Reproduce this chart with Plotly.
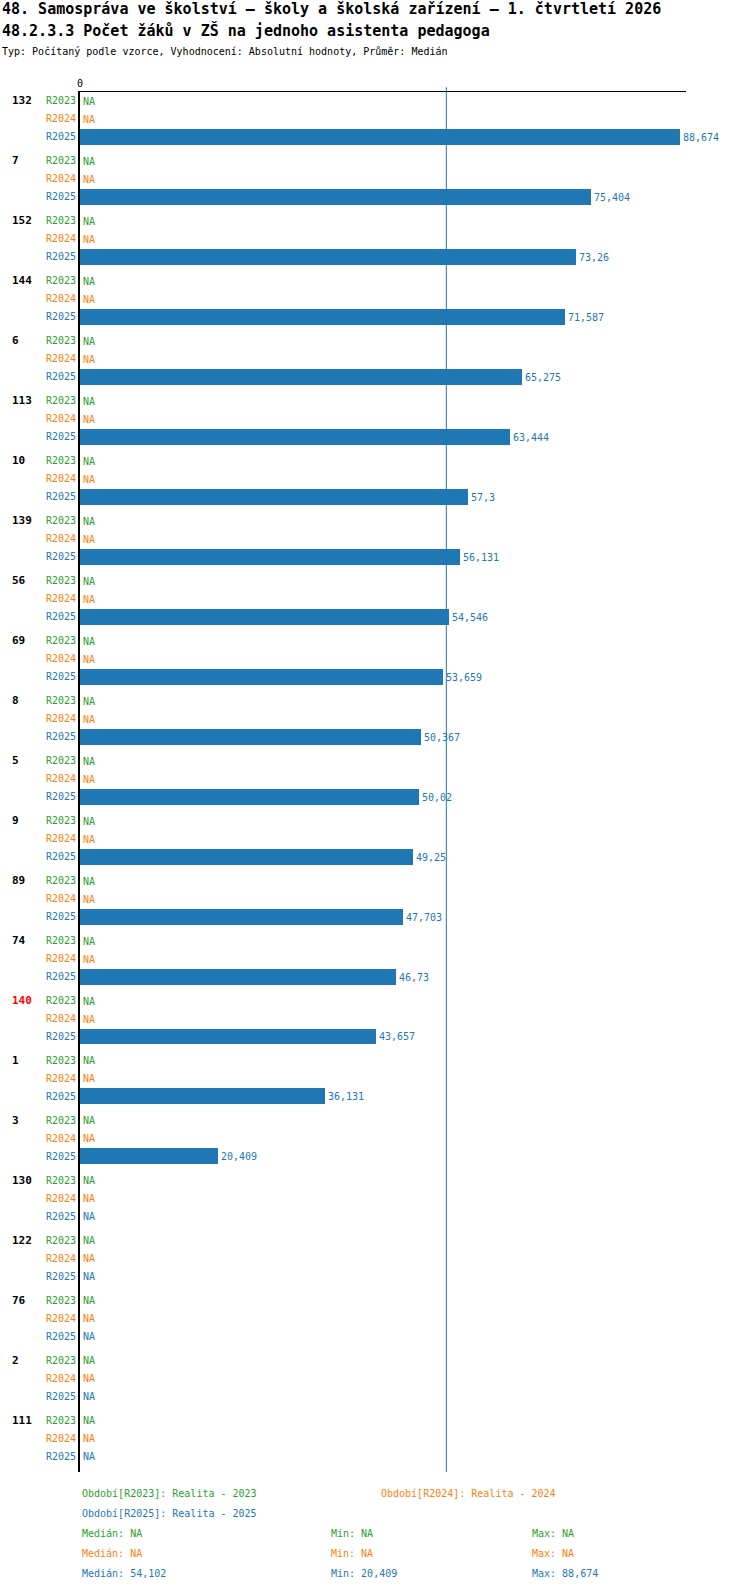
import plotly.graph_objects as go

# data
groups = ["132", "7", "152", "144", "6", "113", "10", "139", "56", "69", "8", "5",
          "9", "89", "74", "140", "1", "3", "130", "122", "76", "2", "111"]
highlight = "140"
series = ["R2023", "R2024", "R2025"]
colors = ["#2ca02c", "#ff7f0e", "#1f77b4"]
r2023 = [None] * len(groups)
r2024 = [None] * len(groups)
r2025 = [88.674, 75.404, 73.26, 71.587, 65.275, 63.444, 57.3, 56.131, 54.546,
         53.659, 50.367, 50.02, 49.25, 47.703, 46.73, 43.657, 36.131, 20.409,
         None, None, None, None, None]
period_names = ["Realita - 2023", "Realita - 2024", "Realita - 2025"]
median_2025 = 54.102
stats = [("NA", "NA", "NA"), ("NA", "NA", "NA"), ("54,102", "20,409", "88,674")]

FONT = "DejaVu Sans Mono"
GROUP_STEP, ROW_STEP = 60, 18
PLOT_TOP, PLOT_BOTTOM = 92, 1472.3
PLOT_H = PLOT_BOTTOM - PLOT_TOP


def fmt(v):
    return "NA" if v is None else f"{v:g}".replace(".", ",")


def py(p):
    # page pixel row -> paper y
    return (PLOT_BOTTOM - p) / PLOT_H


fig = go.Figure()

all_vals = [r2023, r2024, r2025]
tickvals, ticktext = [], []
for k, (name, col, vals) in enumerate(zip(series, colors, all_vals)):
    ys = [g * GROUP_STEP + k * ROW_STEP for g in range(len(groups))]
    tickvals += ys
    ticktext += [f"<span style='color:{col}'>{name}</span>"] * len(ys)
    # missing values become empty bars so "NA" sits where the value label would
    fig.add_trace(go.Bar(
        x=[0 if v is None else v for v in vals], y=ys, orientation="h", width=16,
        marker=dict(color=col, line=dict(width=0)),
        text=[fmt(v) for v in vals], textposition="outside",
        textfont=dict(color=col, size=10, family=FONT),
        constraintext="none", cliponaxis=False, showlegend=False))

# group labels
for g, name in enumerate(groups):
    fig.add_annotation(
        x=-0.116, xref="paper", y=g * GROUP_STEP, yref="y",
        text=f"<b>{name}</b>", showarrow=False, xanchor="left",
        font=dict(size=11, family=FONT, color="red" if name == highlight else "black"))

# median line
fig.add_shape(type="line", x0=median_2025, x1=median_2025, xref="x",
              y0=0, y1=py(87.3), yref="paper",
              line=dict(color="#1f77b4", width=1))

# titles
fig.add_annotation(x=-0.132, xref="paper", y=py(9), yref="paper",
                   text="<b>48. Samospráva ve školství – školy a školská zařízení – 1. čtvrtletí 2026</b>",
                   showarrow=False, xanchor="left", yanchor="middle",
                   font=dict(size=15, family=FONT, color="black"))
fig.add_annotation(x=-0.132, xref="paper", y=py(30), yref="paper",
                   text="<b>48.2.3.3 Počet žáků v ZŠ na jednoho asistenta pedagoga</b>",
                   showarrow=False, xanchor="left", yanchor="middle",
                   font=dict(size=15, family=FONT, color="black"))
fig.add_annotation(x=-0.132, xref="paper", y=py(51), yref="paper",
                   text="Typ: Počítaný podle vzorce, Vyhodnocení: Absolutní hodnoty, Průměr: Medián",
                   showarrow=False, xanchor="left", yanchor="middle",
                   font=dict(size=10, family=FONT, color="black"))

# legend / stats block
legend_pos = [(0, 1494), (0.494, 1494), (0, 1514)]
for (lx, ly), name, col, per in zip(legend_pos, series, colors, period_names):
    fig.add_annotation(x=lx, xref="paper", y=py(ly), yref="paper",
                       text=f"Období[{name}]: {per}", showarrow=False,
                       xanchor="left", yanchor="middle",
                       font=dict(size=10, family=FONT, color=col))
for i, (col, (med, mn, mx)) in enumerate(zip(colors, stats)):
    yy = py(1534 + 20 * i)
    for lx, txt in [(0, f"Medián: {med}"), (0.4116, f"Min: {mn}"), (0.7425, f"Max: {mx}")]:
        fig.add_annotation(x=lx, xref="paper", y=yy, yref="paper", text=txt,
                           showarrow=False, xanchor="left", yanchor="middle",
                           font=dict(size=10, family=FONT, color=col))

fig.update_layout(
    width=750, height=1592,
    margin=dict(l=80, r=64.3, t=PLOT_TOP, b=1592 - PLOT_BOTTOM),
    paper_bgcolor="white", plot_bgcolor="white",
    barmode="overlay", bargap=0,
    font=dict(family=FONT, size=10, color="black"),
    xaxis=dict(range=[0, 89.5], side="top", showgrid=False, zeroline=False,
               showline=True, linecolor="black", linewidth=1,
               tickvals=[0], ticktext=["0"], ticks="",
               tickfont=dict(size=10, family=FONT)),
    yaxis=dict(range=[1371.6, -8.7], showgrid=False, zeroline=False,
               showline=True, linecolor="black", linewidth=2,
               tickvals=tickvals, ticktext=ticktext, ticks="",
               tickfont=dict(size=10, family=FONT)),
)

# page body margin would shift the figure by 8px
fig.write_html("out.html", config={"displayModeBar": False},
               post_script="document.body.style.margin='0';")
